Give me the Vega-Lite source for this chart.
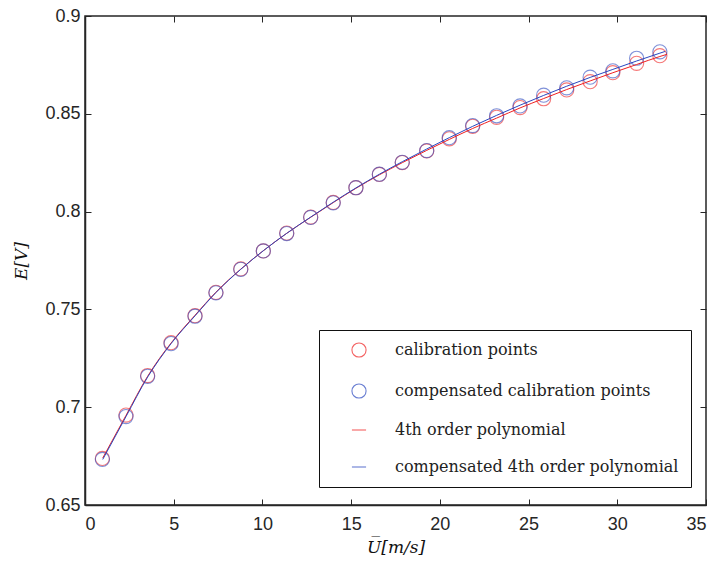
{
  "$schema": "https://vega.github.io/schema/vega-lite/v6.json",
  "width": 621,
  "height": 489,
  "autosize": {"type": "none"},
  "padding": {"left": 85, "top": 16, "right": 13, "bottom": 62},
  "background": "white",
  "config": {
    "view": {"stroke": "#262626", "strokeWidth": 1.5},
    "axis": {"grid": false, "labelFont": "Liberation Sans, Arial, Helvetica, Roboto, sans-serif", "labelFontSize": 18, "labelColor": "#262626", "tickColor": "#262626", "domainColor": "#262626", "domainWidth": 1.5, "tickWidth": 1, "tickSize": -6, "titleFont": "DejaVu Serif", "titleFontStyle": "italic", "titleFontWeight": "normal", "titleFontSize": 17, "titleColor": "#111"},
    "legend": {"labelFont": "DejaVu Serif", "labelFontSize": 16, "labelColor": "#222", "labelLimit": 400, "padding": 12, "rowPadding": 21, "fillColor": "white", "strokeColor": "#111", "symbolStrokeWidth": 1.1, "symbolFillColor": "transparent", "symbolSize": 200, "symbolOffset": 20, "labelOffset": 28}
  },
  "datasets": {
    "points": [
      {"x": 0.98, "E": 0.6738, "series": "calibration points"},
      {"x": 2.31, "E": 0.6960, "series": "calibration points"},
      {"x": 3.53, "E": 0.7162, "series": "calibration points"},
      {"x": 4.85, "E": 0.7330, "series": "calibration points"},
      {"x": 6.2, "E": 0.7468, "series": "calibration points"},
      {"x": 7.38, "E": 0.7587, "series": "calibration points"},
      {"x": 8.78, "E": 0.7707, "series": "calibration points"},
      {"x": 10.05, "E": 0.7799, "series": "calibration points"},
      {"x": 11.37, "E": 0.7890, "series": "calibration points"},
      {"x": 12.72, "E": 0.7972, "series": "calibration points"},
      {"x": 13.99, "E": 0.8047, "series": "calibration points"},
      {"x": 15.27, "E": 0.8122, "series": "calibration points"},
      {"x": 16.59, "E": 0.8190, "series": "calibration points"},
      {"x": 17.88, "E": 0.8251, "series": "calibration points"},
      {"x": 19.26, "E": 0.8310, "series": "calibration points"},
      {"x": 20.53, "E": 0.8372, "series": "calibration points"},
      {"x": 21.85, "E": 0.8436, "series": "calibration points"},
      {"x": 23.2, "E": 0.8482, "series": "calibration points"},
      {"x": 24.52, "E": 0.8532, "series": "calibration points"},
      {"x": 25.85, "E": 0.8577, "series": "calibration points"},
      {"x": 27.15, "E": 0.8622, "series": "calibration points"},
      {"x": 28.47, "E": 0.8664, "series": "calibration points"},
      {"x": 29.75, "E": 0.8710, "series": "calibration points"},
      {"x": 31.09, "E": 0.8758, "series": "calibration points"},
      {"x": 32.4, "E": 0.8797, "series": "calibration points"},
      {"x": 0.98, "E": 0.6733, "series": "compensated calibration points"},
      {"x": 2.31, "E": 0.6952, "series": "compensated calibration points"},
      {"x": 3.53, "E": 0.7158, "series": "compensated calibration points"},
      {"x": 4.85, "E": 0.7325, "series": "compensated calibration points"},
      {"x": 6.2, "E": 0.7465, "series": "compensated calibration points"},
      {"x": 7.38, "E": 0.7585, "series": "compensated calibration points"},
      {"x": 8.78, "E": 0.7705, "series": "compensated calibration points"},
      {"x": 10.05, "E": 0.7799, "series": "compensated calibration points"},
      {"x": 11.37, "E": 0.7888, "series": "compensated calibration points"},
      {"x": 12.72, "E": 0.7970, "series": "compensated calibration points"},
      {"x": 13.99, "E": 0.8045, "series": "compensated calibration points"},
      {"x": 15.27, "E": 0.8122, "series": "compensated calibration points"},
      {"x": 16.59, "E": 0.8191, "series": "compensated calibration points"},
      {"x": 17.88, "E": 0.8252, "series": "compensated calibration points"},
      {"x": 19.26, "E": 0.8312, "series": "compensated calibration points"},
      {"x": 20.53, "E": 0.8378, "series": "compensated calibration points"},
      {"x": 21.85, "E": 0.8440, "series": "compensated calibration points"},
      {"x": 23.2, "E": 0.8490, "series": "compensated calibration points"},
      {"x": 24.52, "E": 0.8540, "series": "compensated calibration points"},
      {"x": 25.85, "E": 0.8595, "series": "compensated calibration points"},
      {"x": 27.15, "E": 0.8633, "series": "compensated calibration points"},
      {"x": 28.47, "E": 0.8687, "series": "compensated calibration points"},
      {"x": 29.75, "E": 0.8720, "series": "compensated calibration points"},
      {"x": 31.09, "E": 0.8784, "series": "compensated calibration points"},
      {"x": 32.4, "E": 0.8817, "series": "compensated calibration points"}
    ],
    "fits": [
      {"x": 1.0, "E": 0.6740, "series": "4th order polynomial"},
      {"x": 2.31, "E": 0.6958, "series": "4th order polynomial"},
      {"x": 3.53, "E": 0.7158, "series": "4th order polynomial"},
      {"x": 4.85, "E": 0.7328, "series": "4th order polynomial"},
      {"x": 6.2, "E": 0.7470, "series": "4th order polynomial"},
      {"x": 7.38, "E": 0.7588, "series": "4th order polynomial"},
      {"x": 8.78, "E": 0.7706, "series": "4th order polynomial"},
      {"x": 10.05, "E": 0.7800, "series": "4th order polynomial"},
      {"x": 11.37, "E": 0.7889, "series": "4th order polynomial"},
      {"x": 12.72, "E": 0.7971, "series": "4th order polynomial"},
      {"x": 13.99, "E": 0.8046, "series": "4th order polynomial"},
      {"x": 15.27, "E": 0.8119, "series": "4th order polynomial"},
      {"x": 16.59, "E": 0.8188, "series": "4th order polynomial"},
      {"x": 17.88, "E": 0.8250, "series": "4th order polynomial"},
      {"x": 19.26, "E": 0.8313, "series": "4th order polynomial"},
      {"x": 20.53, "E": 0.8369, "series": "4th order polynomial"},
      {"x": 21.85, "E": 0.8425, "series": "4th order polynomial"},
      {"x": 23.2, "E": 0.8478, "series": "4th order polynomial"},
      {"x": 24.52, "E": 0.8530, "series": "4th order polynomial"},
      {"x": 25.85, "E": 0.8578, "series": "4th order polynomial"},
      {"x": 27.15, "E": 0.8624, "series": "4th order polynomial"},
      {"x": 28.47, "E": 0.8668, "series": "4th order polynomial"},
      {"x": 29.75, "E": 0.8710, "series": "4th order polynomial"},
      {"x": 31.09, "E": 0.8752, "series": "4th order polynomial"},
      {"x": 32.4, "E": 0.8793, "series": "4th order polynomial"},
      {"x": 32.8, "E": 0.8804, "series": "4th order polynomial"},
      {"x": 1.0, "E": 0.6733, "series": "compensated 4th order polynomial"},
      {"x": 2.31, "E": 0.6952, "series": "compensated 4th order polynomial"},
      {"x": 3.53, "E": 0.7154, "series": "compensated 4th order polynomial"},
      {"x": 4.85, "E": 0.7325, "series": "compensated 4th order polynomial"},
      {"x": 6.2, "E": 0.7467, "series": "compensated 4th order polynomial"},
      {"x": 7.38, "E": 0.7586, "series": "compensated 4th order polynomial"},
      {"x": 8.78, "E": 0.7705, "series": "compensated 4th order polynomial"},
      {"x": 10.05, "E": 0.7800, "series": "compensated 4th order polynomial"},
      {"x": 11.37, "E": 0.7889, "series": "compensated 4th order polynomial"},
      {"x": 12.72, "E": 0.7972, "series": "compensated 4th order polynomial"},
      {"x": 13.99, "E": 0.8048, "series": "compensated 4th order polynomial"},
      {"x": 15.27, "E": 0.8121, "series": "compensated 4th order polynomial"},
      {"x": 16.59, "E": 0.8191, "series": "compensated 4th order polynomial"},
      {"x": 17.88, "E": 0.8255, "series": "compensated 4th order polynomial"},
      {"x": 19.26, "E": 0.8320, "series": "compensated 4th order polynomial"},
      {"x": 20.53, "E": 0.8378, "series": "compensated 4th order polynomial"},
      {"x": 21.85, "E": 0.8436, "series": "compensated 4th order polynomial"},
      {"x": 23.2, "E": 0.8492, "series": "compensated 4th order polynomial"},
      {"x": 24.52, "E": 0.8544, "series": "compensated 4th order polynomial"},
      {"x": 25.85, "E": 0.8594, "series": "compensated 4th order polynomial"},
      {"x": 27.15, "E": 0.8641, "series": "compensated 4th order polynomial"},
      {"x": 28.47, "E": 0.8686, "series": "compensated 4th order polynomial"},
      {"x": 29.75, "E": 0.8727, "series": "compensated 4th order polynomial"},
      {"x": 31.09, "E": 0.8770, "series": "compensated 4th order polynomial"},
      {"x": 32.4, "E": 0.8810, "series": "compensated 4th order polynomial"},
      {"x": 32.7, "E": 0.8819, "series": "compensated 4th order polynomial"}
    ]
  },
  "layer": [
    {
      "data": {"name": "points"},
      "mark": {"type": "point", "filled": false, "strokeWidth": 1.1, "strokeOpacity": 0.85, "size": 200},
      "encoding": {
        "x": {"field": "x", "type": "quantitative", "scale": {"domain": [0, 35], "nice": false},
          "axis": {"orient": "bottom", "values": [0, 5, 10, 15, 20, 25, 30, 35], "labelPadding": 16, "title": "U̅[m/s]", "titlePadding": 6}},
        "y": {"field": "E", "type": "quantitative", "scale": {"domain": [0.65, 0.9], "nice": false, "zero": false},
          "axis": {"orient": "left", "values": [0.65, 0.7, 0.75, 0.8, 0.85, 0.9], "format": ".2~f", "labelPadding": 11, "title": "E[V]", "titlePadding": 14}},
        "color": {"field": "series", "type": "nominal",
          "scale": {"domain": ["calibration points", "compensated calibration points", "4th order polynomial", "compensated 4th order polynomial"], "range": ["#f02020", "#2a48c0", "#f02020", "#2a48c0"]},
          "legend": {"title": null, "orient": "none", "legendX": 234, "legendY": 314}},
        "shape": {"field": "series", "type": "nominal",
          "scale": {"domain": ["calibration points", "compensated calibration points", "4th order polynomial", "compensated 4th order polynomial"], "range": ["circle", "circle", "stroke", "stroke"]}}
      }
    },
    {
      "data": {"name": "fits"},
      "mark": {"type": "line", "strokeWidth": 1, "interpolate": "monotone"},
      "encoding": {
        "x": {"field": "x", "type": "quantitative", "axis": null},
        "y": {"field": "E", "type": "quantitative", "axis": null},
        "color": {"field": "series", "type": "nominal"}
      }
    },
    {
      "data": {"name": "points"},
      "mark": {"type": "point", "opacity": 0},
      "encoding": {
        "x": {"field": "x", "type": "quantitative", "axis": {"orient": "top", "values": [0, 5, 10, 15, 20, 25, 30, 35], "labels": false, "domain": false, "title": null}},
        "y": {"field": "E", "type": "quantitative", "axis": {"orient": "right", "values": [0.65, 0.7, 0.75, 0.8, 0.85, 0.9], "labels": false, "domain": false, "title": null}}
      }
    }
  ],
  "resolve": {"axis": {"x": "independent", "y": "independent"}}
}
